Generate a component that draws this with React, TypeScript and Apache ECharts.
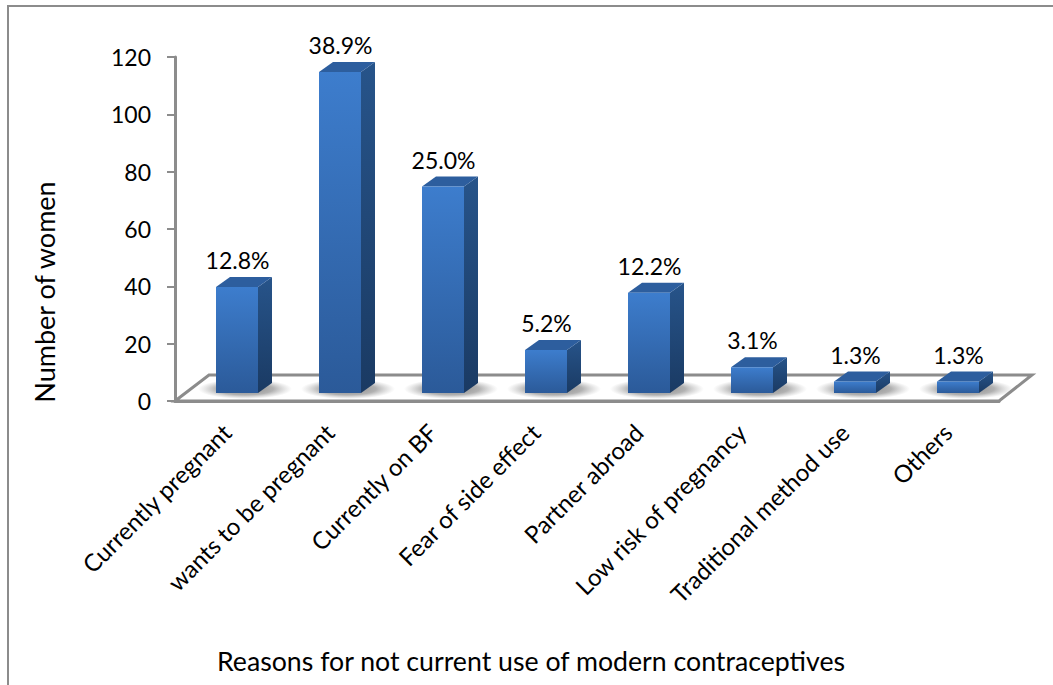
import React, { useEffect, useRef } from "react";
import * as echarts from "echarts";

const categories = [
  "Currently pregnant",
  "wants to be pregnant",
  "Currently on BF",
  "Fear of side effect",
  "Partner abroad",
  "Low risk of pregnancy",
  "Traditional method use",
  "Others",
];
const women = [37, 112, 72, 15, 35, 9, 4, 4];
const shares = ["12.8%", "38.9%", "25.0%", "5.2%", "12.2%", "3.1%", "1.3%", "1.3%"];
const yTicks = [0, 20, 40, 60, 80, 100, 120];
const xTitle = "Reasons for not current use of modern contraceptives";
const yTitle = "Number of women";

const FONT = "Lato, 'Open Sans', sans-serif";
const AXIS_GRAY = "#8c8c8c";
// Oblique projection of the 3D box: full depth of the floor and of one bar.
const FLOOR_DX = 34;
const FLOOR_DY = -26;
const BAR_DX = 14;
const BAR_DY = -10;
const BAR_LIFT = 8;
const BAR_WIDTH = 42;
const BAR_SHIFT = 10.5;

function renderFloor(params: any) {
  const c = params.coordSys;
  const x0 = c.x;
  const x1 = c.x + c.width;
  const y = c.y + c.height;
  const points = [
    [x0, y],
    [x0 + FLOOR_DX, y + FLOOR_DY],
    [x1 + FLOOR_DX - 1, y + FLOOR_DY],
    [x1, y],
  ];
  return {
    type: "polygon",
    shape: { points },
    style: { fill: "#ffffff", stroke: AXIS_GRAY, lineWidth: 3 },
    silent: true,
  };
}

function renderBar(params: any, api: any) {
  const i = api.value(0);
  const v = api.value(1);
  const base = api.coord([i, 0]);
  const top = api.coord([i, v]);
  const x0 = base[0] - BAR_WIDTH / 2 + BAR_SHIFT;
  const x1 = x0 + BAR_WIDTH;
  const yb = base[1] - BAR_LIFT;
  const yt = top[1] - BAR_LIFT;
  const vertical = (a: string, b: string) =>
    new echarts.graphic.LinearGradient(0, 0, 0, 1, [
      { offset: 0, color: a },
      { offset: 1, color: b },
    ]);
  return {
    type: "group",
    children: [
      {
        // Soft shadow the box casts on the floor, faded with a radial fill
        type: "ellipse",
        shape: { cx: (x0 + x1) / 2 + 8, cy: yb - 4, rx: 47, ry: 10 },
        style: {
          fill: new echarts.graphic.RadialGradient(0.5, 0.5, 0.5, [
            { offset: 0, color: "rgba(80,80,80,0.7)" },
            { offset: 0.6, color: "rgba(100,100,100,0.5)" },
            { offset: 1, color: "rgba(140,140,140,0)" },
          ]),
        },
      },
      {
        type: "polygon",
        shape: {
          points: [
            [x1, yb],
            [x1 + BAR_DX, yb + BAR_DY],
            [x1 + BAR_DX, yt + BAR_DY],
            [x1, yt],
          ],
        },
        style: { fill: vertical("#27548a", "#1a3a63") },
      },
      {
        type: "polygon",
        shape: {
          points: [
            [x0, yt],
            [x0 + BAR_DX, yt + BAR_DY],
            [x1 + BAR_DX, yt + BAR_DY],
            [x1, yt],
          ],
        },
        style: { fill: "#2d5e9e" },
      },
      {
        type: "rect",
        shape: { x: x0, y: yt, width: BAR_WIDTH, height: yb - yt },
        style: { fill: vertical("#3d7dcd", "#2b5a99") },
      },
      {
        type: "text",
        x: (x0 + x1) / 2 + 0.5,
        y: yt + BAR_DY - 17,
        style: {
          text: shares[i],
          fill: "#000000",
          font: `23px ${FONT}`,
          align: "center",
          verticalAlign: "middle",
        },
      },
    ],
  };
}

export default function App() {
  const ref = useRef<HTMLDivElement>(null);
  useEffect(() => {
    const chart = echarts.init(ref.current!, undefined, { renderer: "svg" });
    chart.setOption({
      animation: false,
      backgroundColor: "#ffffff",
      grid: { left: 175, right: 54, top: 57, bottom: 284, containLabel: false },
      graphic: [
        {
          type: "polyline",
          silent: true,
          shape: { points: [[8, 685], [8, 6], [1053, 6]] },
          style: { stroke: AXIS_GRAY, lineWidth: 2, fill: "none" },
        },
        {
          type: "text",
          silent: true,
          x: 531,
          y: 661,
          style: {
            text: xTitle,
            fill: "#000",
            font: `26.7px ${FONT}`,
            align: "center",
            verticalAlign: "middle",
          },
        },
        {
          type: "text",
          silent: true,
          x: 44,
          y: 292,
          rotation: Math.PI / 2,
          style: {
            text: yTitle,
            fill: "#000",
            font: `27px ${FONT}`,
            align: "center",
            verticalAlign: "middle",
          },
        },
      ],
      xAxis: {
        type: "category",
        data: categories,
        axisLine: { lineStyle: { color: AXIS_GRAY, width: 3 } },
        axisTick: { lineStyle: { color: AXIS_GRAY, width: 2 }, length: 8 },
        axisLabel: {
          rotate: 45,
          interval: 0,
          fontFamily: FONT,
          fontSize: 24,
          color: "#000",
          margin: 27,
        },
      },
      yAxis: {
        type: "value",
        min: yTicks[0],
        max: yTicks[yTicks.length - 1],
        interval: yTicks[1],
        splitLine: { show: false },
        axisLine: { show: true, lineStyle: { color: AXIS_GRAY, width: 3 } },
        axisTick: { show: true, lineStyle: { color: AXIS_GRAY, width: 2 }, length: 8 },
        axisLabel: { fontFamily: FONT, fontSize: 23, color: "#000", margin: 24 },
      },
      series: [
        {
          type: "custom",
          coordinateSystem: "cartesian2d",
          silent: true,
          z: 1,
          data: [[0, 0]],
          renderItem: renderFloor,
        },
        {
          type: "custom",
          coordinateSystem: "cartesian2d",
          silent: true,
          z: 3,
          clip: false,
          encode: { x: 0, y: 1 },
          data: women.map((v, i) => [i, v]),
          renderItem: renderBar,
        },
      ],
    });
    return () => chart.dispose();
  }, []);
  return <div ref={ref} style={{ position: "fixed", left: 0, top: 0, width: 1053, height: 685 }} />;
}
